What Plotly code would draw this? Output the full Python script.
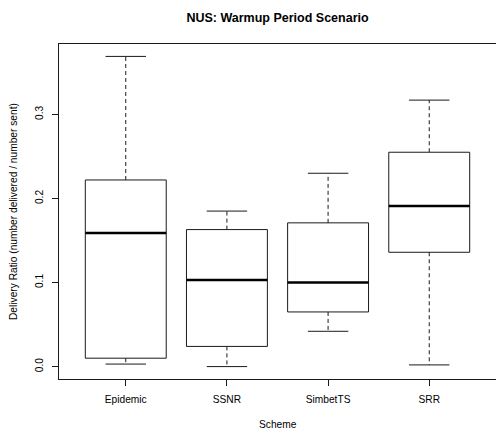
import plotly.graph_objects as go

# Five-number summaries of the delivery ratio for each scheme
schemes = ["Epidemic", "SSNR", "SimbetTS", "SRR"]
whisker_low = [0.003, 0.000, 0.042, 0.002]
q1 = [0.010, 0.024, 0.065, 0.136]
median = [0.159, 0.103, 0.100, 0.191]
q3 = [0.222, 0.163, 0.171, 0.255]
whisker_high = [0.369, 0.185, 0.230, 0.317]

y_ticks = [0.0, 0.1, 0.2, 0.3]
y_tick_labels = ["0.0", "0.1", "0.2", "0.3"]

BOX_HALF = 0.4      # half box width (boxwex 0.8)
STAPLE_HALF = 0.2   # half width of whisker end caps
INK = "#1a1a1a"
FONT = "Liberation Sans, Arial, Helvetica, sans-serif"

positions = list(range(1, len(schemes) + 1))

box_x, box_y = [], []
med_x, med_y = [], []
wh_x, wh_y = [], []
st_x, st_y = [], []
for p, lo, a, m, b, hi in zip(positions, whisker_low, q1, median, q3, whisker_high):
    box_x += [p - BOX_HALF, p + BOX_HALF, p + BOX_HALF, p - BOX_HALF, p - BOX_HALF, None]
    box_y += [a, a, b, b, a, None]
    med_x += [p - BOX_HALF, p + BOX_HALF, None]
    med_y += [m, m, None]
    wh_x += [p, p, None, p, p, None]
    wh_y += [b, hi, None, a, lo, None]
    st_x += [p - STAPLE_HALF, p + STAPLE_HALF, None, p - STAPLE_HALF, p + STAPLE_HALF, None]
    st_y += [hi, hi, None, lo, lo, None]

fig = go.Figure()
fig.add_trace(go.Scatter(x=wh_x, y=wh_y, mode="lines",
                         line=dict(color=INK, width=1, dash="4px,3px"),
                         hoverinfo="skip", showlegend=False))
fig.add_trace(go.Scatter(x=st_x, y=st_y, mode="lines",
                         line=dict(color=INK, width=1),
                         hoverinfo="skip", showlegend=False))
fig.add_trace(go.Scatter(x=box_x, y=box_y, mode="lines",
                         line=dict(color=INK, width=1),
                         hoverinfo="skip", showlegend=False))
fig.add_trace(go.Scatter(x=med_x, y=med_y, mode="lines",
                         line=dict(color="black", width=2.5),
                         hoverinfo="skip", showlegend=False))

# R-style 4% axis extension
lo_all, hi_all = min(whisker_low), max(whisker_high)
ypad = 0.04 * (hi_all - lo_all)
xpad = 0.04 * len(schemes)
x_range = [0.5 - xpad, len(schemes) + 0.5 + xpad]

fig.update_layout(
    width=496, height=430,
    margin=dict(l=59, r=0, t=44, b=51),
    paper_bgcolor="white", plot_bgcolor="white",
    font=dict(family=FONT, size=10, color="black"),
    title=dict(text="<b>NUS: Warmup Period Scenario</b>",
               x=0.5, xref="paper", xanchor="center",
               y=1 - 17.5 / 430, yref="container", yanchor="middle",
               font=dict(family=FONT, size=12.5, color="black")),
    xaxis=dict(range=x_range, tickmode="array", tickvals=positions, ticktext=schemes,
               showgrid=False, zeroline=False, showline=True, linecolor=INK,
               linewidth=1, mirror=True, ticks="outside", ticklen=6,
               tickcolor=INK, tickfont=dict(size=10.2), ticklabelstandoff=5),
    yaxis=dict(range=[lo_all - ypad, hi_all + ypad], tickmode="array",
               tickvals=y_ticks, ticktext=y_tick_labels, tickangle=-90,
               showgrid=False, zeroline=False, showline=True, linecolor=INK,
               linewidth=1, mirror=False, ticks="outside", ticklen=6,
               tickcolor=INK, tickfont=dict(size=10.2), ticklabelstandoff=5),
    annotations=[
        dict(text="Scheme", xref="paper", yref="paper", x=0.5, y=0,
             yshift=-45, showarrow=False, xanchor="center", yanchor="middle",
             font=dict(size=10.2)),
        dict(text="Delivery Ratio (number delivered / number sent)",
             xref="paper", yref="paper", x=0, y=0.5, xshift=-45.5,
             showarrow=False, textangle=-90, xanchor="center", yanchor="middle",
             font=dict(size=10.2)),
    ],
)

fig.write_html("out.html")
